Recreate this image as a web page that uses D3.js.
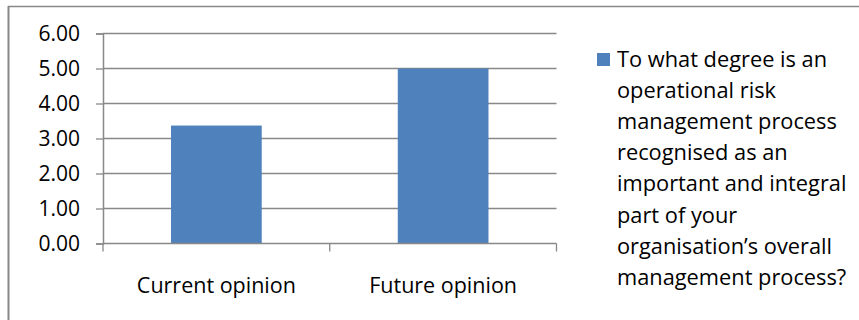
<!DOCTYPE html>
<html>
<head>
<meta charset="utf-8">
<script src="https://cdn.jsdelivr.net/npm/d3@7/dist/d3.min.js"></script>
<style>
  html, body { margin: 0; padding: 0; background: #fff; }
  svg { display: block; }
  text { font-family: "Open Sans", Lato, sans-serif; fill: #000; }
</style>
</head>
<body>
<svg id="chart" width="859" height="320"></svg>
<script>
const categories = ["Current opinion", "Future opinion"];
const values = [3.37, 5.00];
const yTicks = [0, 1, 2, 3, 4, 5, 6];
const seriesName = "To what degree is an operational risk management process recognised as an important and integral part of your organisation\u2019s overall management process?";
const legendLines = [
  "To what degree is an",
  "operational risk",
  "management process",
  "recognised as an",
  "important and integral",
  "part of your",
  "organisation\u2019s overall",
  "management process?"
];

const svg = d3.select("#chart");
const gray = "#888888";
const barColor = "#4F81BD";
const font = "'Open Sans', Lato, sans-serif";

// outer chart border (top and left visible)
svg.append("line").attr("x1", 8).attr("x2", 859).attr("y1", 6.5).attr("y2", 6.5)
  .attr("stroke", gray).attr("stroke-width", 1.5);
svg.append("line").attr("x1", 8.5).attr("x2", 8.5).attr("y1", 6).attr("y2", 320)
  .attr("stroke", gray).attr("stroke-width", 2);

const x = d3.scaleBand().domain(categories).range([103, 556.5]).paddingInner(0).paddingOuter(0);
const y = d3.scaleLinear().domain([0, 6]).range([243.5, 33.5]);

// gridlines
svg.append("g").selectAll("line").data(yTicks.filter(d => d > 0)).join("line")
  .attr("x1", x.range()[0]).attr("x2", x.range()[1])
  .attr("y1", d => y(d)).attr("y2", d => y(d))
  .attr("stroke", gray).attr("stroke-width", 1.3);

// bars
svg.append("g").selectAll("rect").data(categories).join("rect")
  .attr("x", d => x(d) + x.bandwidth() * 0.3)
  .attr("width", x.bandwidth() * 0.4)
  .attr("y", (d, i) => y(values[i]))
  .attr("height", (d, i) => y(0) - y(values[i]))
  .attr("fill", barColor);

// y axis
const yAxis = d3.axisLeft(y).tickValues(yTicks).tickFormat(d3.format(".2f"))
  .tickSize(7).tickPadding(16);
const gy = svg.append("g").attr("transform", "translate(103,0)").call(yAxis);
gy.select(".domain").attr("stroke", gray).attr("stroke-width", 1.5);
gy.selectAll(".tick line").attr("stroke", gray).attr("stroke-width", 1.3);
gy.selectAll(".tick text").attr("font-family", font).attr("font-size", 21).attr("fill", "#000");

// x axis line
svg.append("line").attr("x1", x.range()[0]).attr("x2", x.range()[1])
  .attr("y1", y(0)).attr("y2", y(0)).attr("stroke", gray).attr("stroke-width", 1.5);
// category boundary ticks
const bounds = categories.map(c => x(c)).concat([x.range()[1]]);
svg.append("g").selectAll("line").data(bounds).join("line")
  .attr("x1", d => d).attr("x2", d => d)
  .attr("y1", y(0)).attr("y2", y(0) + 8)
  .attr("stroke", gray).attr("stroke-width", 1.3);
// category labels
svg.append("g").selectAll("text").data(categories).join("text")
  .attr("x", d => x(d) + x.bandwidth() / 2)
  .attr("y", 293)
  .attr("text-anchor", "middle")
  .attr("font-size", 21.5)
  .text(d => d);

// legend
const lg = svg.append("g").attr("class", "legend");
lg.append("rect").attr("x", 597).attr("y", 53).attr("width", 13).attr("height", 13).attr("fill", barColor);
lg.append("text").attr("font-size", 21.8)
  .selectAll("tspan").data(legendLines).join("tspan")
  .attr("x", 617).attr("y", (d, i) => 67 + i * 31.1)
  .text(d => d);
lg.append("title").text(seriesName);
</script>
</body>
</html>
